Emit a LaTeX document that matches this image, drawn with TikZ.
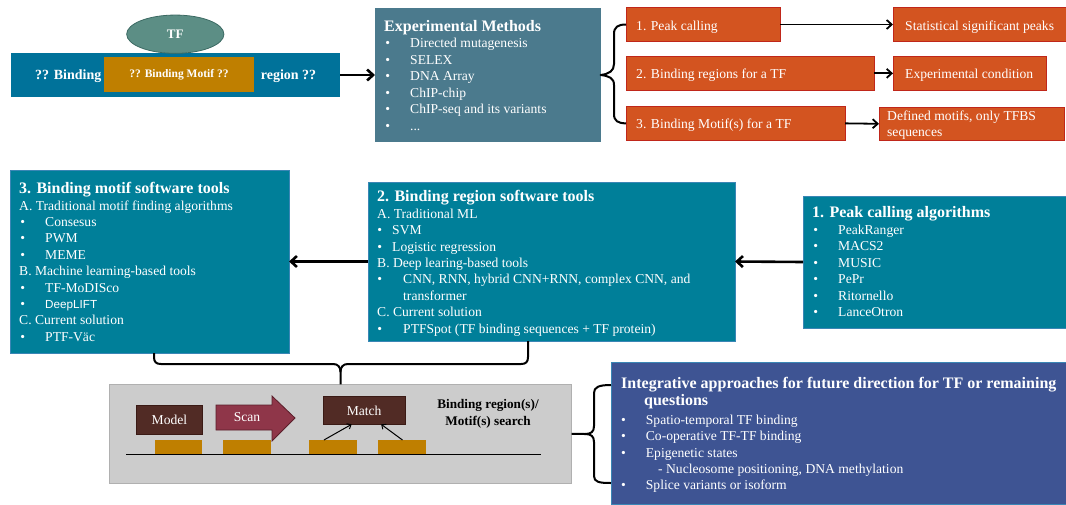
\documentclass[tikz,border=0pt]{standalone}
\usepackage{fontspec}
\setmainfont{Liberation Serif}
\newfontfamily\arialf{Liberation Sans}
\usetikzlibrary{arrows.meta,shapes.geometric}
\definecolor{barblue}{HTML}{00729A}
\definecolor{motifor}{HTML}{BF7F00}
\definecolor{tfgreen}{HTML}{5C8E85}
\definecolor{tfedge}{HTML}{3C6A63}
\definecolor{emblue}{HTML}{4B7A8D}
\definecolor{orfill}{HTML}{D35420}
\definecolor{oredge}{HTML}{C0271A}
\definecolor{tealf}{HTML}{007F99}
\definecolor{tealedge}{HTML}{3A86B5}
\definecolor{purp}{HTML}{3E5493}
\definecolor{greyf}{HTML}{CCCCCC}
\definecolor{greye}{HTML}{B0B0B0}
\definecolor{darkbr}{HTML}{512B25}
\definecolor{darkbre}{HTML}{3A1A15}
\definecolor{scanc}{HTML}{8F3649}
\definecolor{scane}{HTML}{5A1E2A}
\newcommand\body{\fontsize{13.6}{16.5}\selectfont}
\newcommand\ttl{\fontsize{16}{19}\selectfont\bfseries}
\newcommand\bul[1]{\llap{\textbullet\hspace{#1}}}
\begin{document}
\begin{tikzpicture}[x=1pt,y=-1pt,
  ln/.style={anchor=base west, inner sep=0, text=white, font=\body},
  hd/.style={anchor=base west, inner sep=0, text=white, font=\ttl},
  rbox/.style={anchor=north west, inner sep=0, outer sep=0},
  tealbox/.style={rbox, fill=tealf, draw=tealedge, line width=0.8},
  orbox/.style={rbox, fill=orfill, draw=oredge, line width=0.8},
  darkbox/.style={rbox, fill=darkbr, draw=darkbre, line width=1, text=white, font=\body},
  bigarr/.style={line width=2.6, -{Straight Barb[length=6pt,width=11pt]}},
  medarr/.style={line width=1.8, -{Straight Barb[length=5pt,width=9pt]}},
  smallarr/.style={line width=1, -{Straight Barb[length=3.5pt,width=6pt]}},
  brace/.style={line width=2, line join=round}]
\useasboundingbox (0,0) rectangle (1066,504);
% ---------- top left: TF on DNA ----------
\node[rbox, fill=barblue, minimum width=329, minimum height=43.4] (bar) at (11,53.3) {};
\node[rbox, fill=motifor, minimum width=150, minimum height=35.6, text=white,
      font=\fontsize{11.5}{13}\selectfont\bfseries] (motif) at (104,56.7) {?? Binding Motif ??};
\node[ellipse, draw=tfedge, line width=0.8, fill=tfgreen, minimum width=97.3, minimum height=38.3,
      inner sep=0, text=white, font=\fontsize{13}{15}\selectfont\bfseries] (tf) at (175.3,34.2) {TF};
\node[ln, font=\fontsize{14}{16}\selectfont\bfseries] (bindl) at (35,79) {?? Binding};
\node[ln, font=\fontsize{14}{16}\selectfont\bfseries] (regr) at (260.7,79) {region ??};
% ---------- Experimental methods ----------
\node[rbox, fill=emblue, minimum width=225.7, minimum height=133.4] (em) at (375,8.3) {};
\node[hd] (emt) at (384,31) {Experimental Methods};
\node[ln] (em0) at (410,47.7) {\bul{20pt}Directed mutagenesis};
\node[ln] (em1) at (410,64.2) {\bul{20pt}SELEX};
\node[ln] (em2) at (410,80.7) {\bul{20pt}DNA Array};
\node[ln] (em3) at (410,97.2) {\bul{20pt}ChIP-chip};
\node[ln] (em4) at (410,113.7) {\bul{20pt}ChIP-seq and its variants};
\node[ln] (em5) at (410,130.2) {\bul{20pt}...};
\draw[bigarr] (bar.east) -- (em.west);
% ---------- orange boxes ----------
\node[orbox, minimum width=154, minimum height=34.4] (o1) at (626,7.3) {};
\node[orbox, minimum width=248, minimum height=34.7] (o2) at (626,56) {};
\node[orbox, minimum width=219, minimum height=33.3] (o3) at (626,106.7) {};
\node[orbox, minimum width=173, minimum height=34.4] (r1) at (893,7.3) {};
\node[orbox, minimum width=153, minimum height=34.7] (r2) at (893,56) {};
\node[orbox, minimum width=185, minimum height=33] (r3) at (879,107.3) {};
\node[ln] (o1t) at (636,30) {1. Peak calling};
\node[ln] (o2t) at (636,78.3) {2. Binding regions for a TF};
\node[ln] (o3t) at (636,128.3) {3. Binding Motif(s) for a TF};
\node[ln] (r1t) at (905,30) {Statistical significant peaks};
\node[ln] (r2t) at (905,78.3) {Experimental condition};
\node[ln] (r3t) at (887,120.5) {Defined motifs, only TFBS};
\node[ln] (r3u) at (887,136) {sequences};
\draw[medarr] (o1.east) -- (r1.west);
\draw[medarr] (o2.east) -- (r2.west);
\draw[medarr] (o3.east) -- (r3.west);
\draw[brace] (o1.west) .. controls (618,24.5) and (614,27) .. (614,34) -- (614,64)
  .. controls (614,71) and (609,74) .. (em.east)
  .. controls (609,76) and (614,78) .. (614,85) -- (614,114)
  .. controls (614,121) and (618,123.3) .. (o3.west);
% ---------- 3. Binding motif software tools ----------
\node[tealbox, minimum width=279, minimum height=183] (b3) at (10,170) {};
\node[hd] (b3t) at (19,193) {3. Binding motif software tools};
\node[ln] (b3a) at (19,210) {A. Traditional motif finding algorithms};
\node[ln] (b3a1) at (45,226.4) {\bul{20pt}Consesus};
\node[ln] (b3a2) at (45,242.8) {\bul{20pt}PWM};
\node[ln] (b3a3) at (45,259.2) {\bul{20pt}MEME};
\node[ln] (b3b) at (19,275.6) {B. Machine learning-based tools};
\node[ln] (b3b1) at (45,292) {\bul{20pt}TF-MoDISco};
\node[ln] (b3b2) at (45,308.4) {\bul{20pt}{\arialf\fontsize{11.7}{14}\selectfont DeepLIFT}};
\node[ln] (b3c) at (19,324.8) {C. Current solution};
\node[ln] (b3c1) at (45,341.2) {\bul{20pt}PTF-Väc};
% ---------- 2. Binding region software tools ----------
\node[tealbox, minimum width=367, minimum height=159] (b2) at (368,182) {};
\node[hd] (b2t) at (377,201) {2. Binding region software tools};
\node[ln] (b2a) at (377,218.3) {A. Traditional ML};
\node[ln] (b2a1) at (392,234.7) {\bul{10pt}SVM};
\node[ln] (b2a2) at (392,251.1) {\bul{10pt}Logistic regression};
\node[ln] (b2b) at (377,267.5) {B. Deep learing-based tools};
\node[ln] (b2b1) at (403,283.9) {\bul{21pt}CNN, RNN, hybrid CNN+RNN, complex CNN, and};
\node[ln] (b2b2) at (403,300.3) {transformer};
\node[ln] (b2c) at (377,316.7) {C. Current solution};
\node[ln] (b2c1) at (403,333.1) {\bul{21pt}PTFSpot (TF binding sequences + TF protein)};
% ---------- 1. Peak calling algorithms ----------
\node[tealbox, minimum width=263, minimum height=132] (b1) at (803,196) {};
\node[hd] (b1t) at (812,217.3) {1. Peak calling algorithms};
\node[ln] (b10) at (838,234.3) {\bul{20pt}PeakRanger};
\node[ln] (b11) at (838,250.8) {\bul{20pt}MACS2};
\node[ln] (b12) at (838,267.3) {\bul{20pt}MUSIC};
\node[ln] (b13) at (838,283.8) {\bul{20pt}PePr};
\node[ln] (b14) at (838,300.3) {\bul{20pt}Ritornello};
\node[ln] (b15) at (838,316.8) {\bul{20pt}LanceOtron};
\draw[bigarr] (b2.west) -- (b3.east);
\draw[bigarr] (b1.west) -- (b2.east);
% ---------- search box ----------
\node[rbox, fill=greyf, draw=greye, line width=1.5, minimum width=462.4, minimum height=99] (gray) at (109.3,384.3) {};
\coordinate (bl) at (154,353);
\coordinate (br) at (528,341);
\draw[brace] (bl) -- (154,357) .. controls (154,362) and (156,364) .. (161,364) -- (333,364)
  .. controls (338,364) and (340.5,367) .. (340.5,372) -- (gray.north);
\draw[brace] (340.5,372) .. controls (340.5,367) and (343,364) .. (348,364) -- (521,364)
  .. controls (526,364) and (528,362) .. (528,357) -- (br);
\node[darkbox, minimum width=65.6, minimum height=28.3] (model) at (136.7,405.7) {Model};
\draw[fill=scanc, draw=scane, line width=0.8] (216,405) -- (272,405) -- (272,396) -- (295,418)
  -- (272,441) -- (272,430) -- (216,430) -- cycle;
\node[text=white, font=\body, inner sep=0] (scan) at (247,417.5) {Scan};
\node[darkbox, minimum width=81.7, minimum height=27.6] (match) at (323.3,396.7) {Match};
\node[rbox, fill=motifor, minimum width=47.3, minimum height=14] (m1) at (155,440) {};
\node[rbox, fill=motifor, minimum width=47.3, minimum height=14] (m2) at (223.3,440) {};
\node[rbox, fill=motifor, minimum width=47.3, minimum height=14] (m3) at (309.3,440) {};
\node[rbox, fill=motifor, minimum width=47.3, minimum height=14] (m4) at (378.3,440) {};
\coordinate (dnaL) at (126,454.3);
\coordinate (dnaR) at (540.7,454.3);
\draw[line width=1.2] (dnaL) -- (dnaR);
\draw[smallarr] ([xshift=-9pt]m3.north) -- ([xshift=-12.5pt]match.south);
\draw[smallarr] ([xshift=0.5pt]m4.north) -- ([xshift=17pt]match.south);
\node[anchor=base, inner sep=0, font=\fontsize{13.2}{16}\selectfont\bfseries] (bs1) at (488,408.3) {Binding region(s)/};
\node[anchor=base, inner sep=0, font=\fontsize{13.2}{16}\selectfont\bfseries] (bs2) at (488,425) {Motif(s) search};
% ---------- integrative approaches ----------
\node[rbox, fill=purp, draw=tealedge, line width=0.8, minimum width=455, minimum height=142] (pu) at (611,362) {};
\coordinate (pt) at (611,385);
\coordinate (pb) at (611,483);
\draw[brace] (pt) .. controls (599,385) and (594,387) .. (594,393) -- (594,426)
  .. controls (594,432) and (591,434) .. (585,434) -- (gray.east);
\draw[brace] (585,434) .. controls (591,434) and (594,436) .. (594,442) -- (594,476)
  .. controls (594,482) and (599,483) .. (pb);
\node[hd] (put) at (621,388.3) {Integrative approaches for future direction for TF or remaining};
\node[hd] (puq) at (644,405) {questions};
\node[ln] (pu1) at (645.7,424) {\bul{20pt}Spatio-temporal TF binding};
\node[ln] (pu2) at (645.7,440.5) {\bul{20pt}Co-operative TF-TF binding};
\node[ln] (pu3) at (645.7,457) {\bul{20pt}Epigenetic states};
\node[ln] (pu4) at (658,473) {- Nucleosome positioning, DNA methylation};
\node[ln] (pu5) at (645.7,489.3) {\bul{20pt}Splice variants or isoform};
\end{tikzpicture}
\end{document}
